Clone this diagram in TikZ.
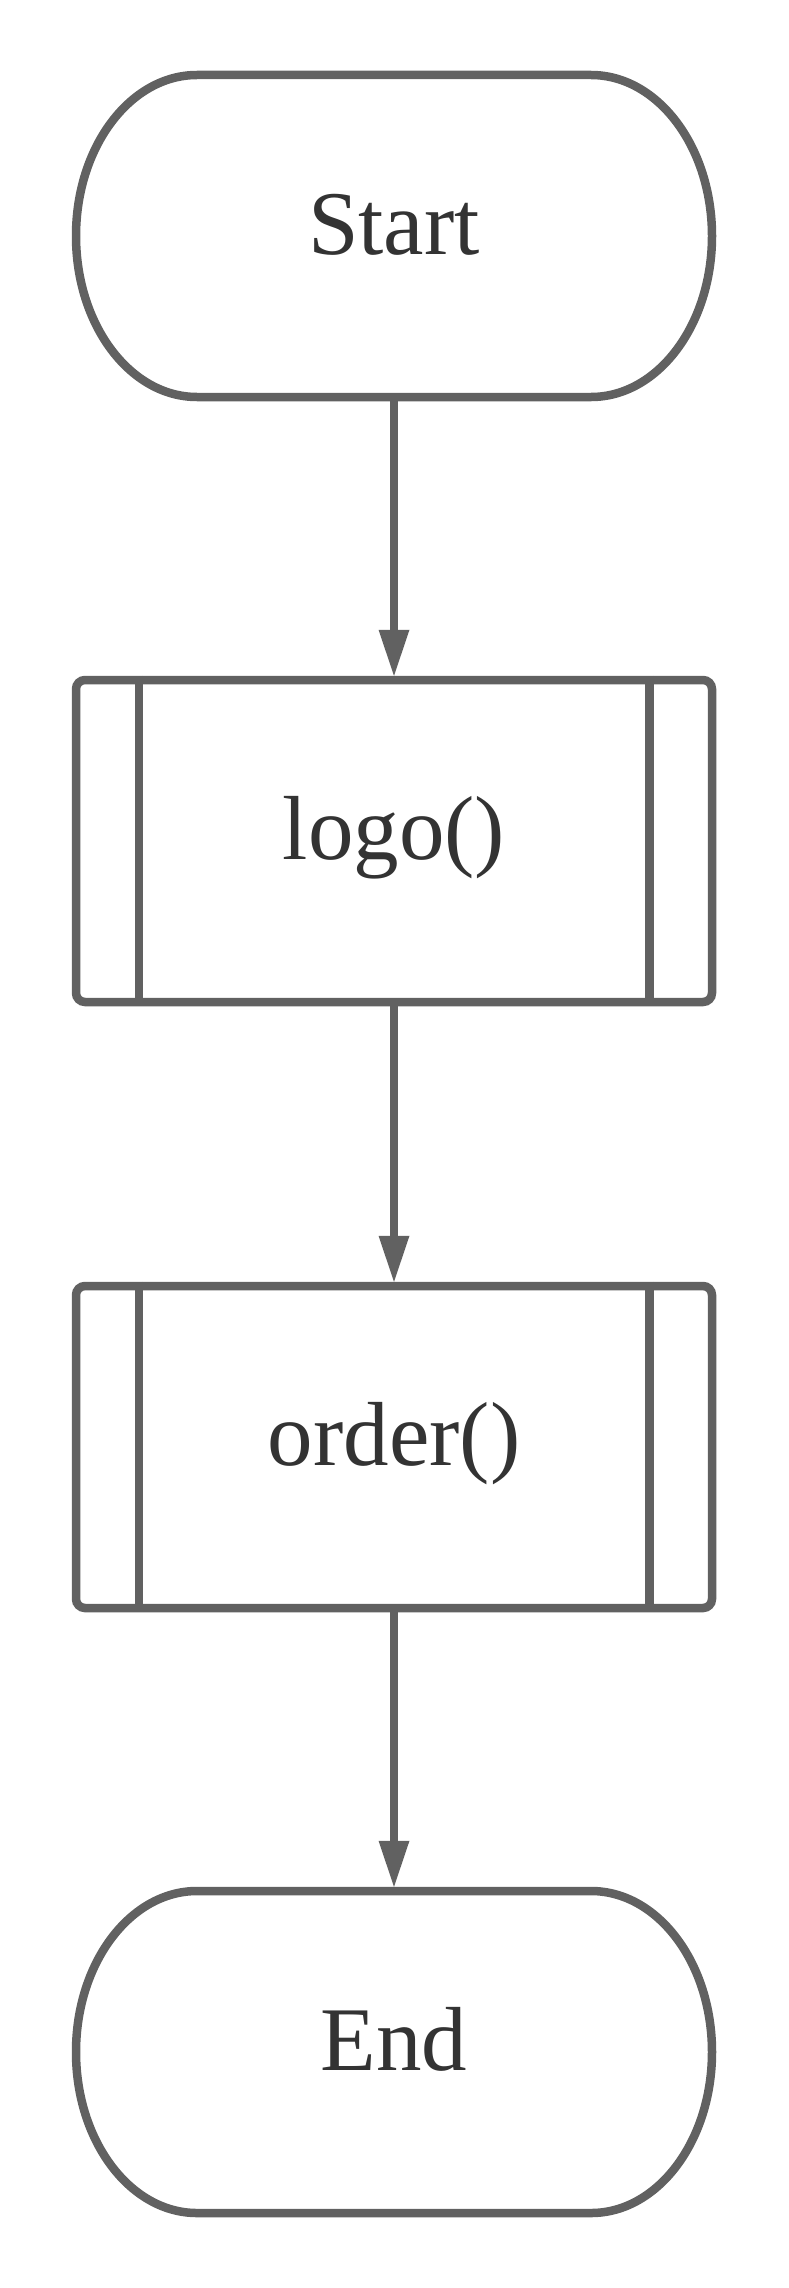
\documentclass[tikz,border=0pt]{standalone}
\usepackage{fontspec}
\setmainfont{Liberation Serif}
\usetikzlibrary{arrows.meta}
\definecolor{linegray}{HTML}{616161}
\definecolor{textgray}{HTML}{333333}
\tikzset{
  x=1pt, y=1pt,
  basenode/.style={line width=8.5pt, inner sep=0pt, minimum width=636pt, minimum height=322pt,
    text=textgray, font=\fontsize{91}{100}\selectfont, text height=62pt, text depth=26pt},
  termnode/.style={basenode, draw=none},
  termline/.style={draw=linegray, line width=8.5pt, fill=white},
  subbox/.style={basenode, draw=linegray, fill=white, rounded corners=9pt},
  subline/.style={draw=linegray, line width=8.5pt},
  flow/.style={draw=linegray, line width=8.5pt, -{Triangle[length=46pt, width=31pt, line width=0pt]}},
}
\newcommand{\termshape}[1]{%
  \begin{scope}[shift={(#1.center)}]
    \path[termline] (-197,161) -- (197,161)
      arc[start angle=90, end angle=-90, x radius=121, y radius=161]
      -- (-197,-161)
      arc[start angle=270, end angle=90, x radius=121, y radius=161] -- cycle;
  \end{scope}}
\begin{document}
\begin{tikzpicture}
  \useasboundingbox[fill=white] (0,0) rectangle (788,-2288);
  % Start
  \node[termnode] (start) at (394,-236) {};
  \termshape{start}
  \node[termnode] (startlabel) at (start.center) {Start};
  % logo()
  \node[subbox] (logo) at (394,-841) {logo()};
  \draw[subline] ([xshift=67pt]logo.north west) -- ([xshift=67pt]logo.south west);
  \draw[subline] ([xshift=-67pt]logo.north east) -- ([xshift=-67pt]logo.south east);
  % order()
  \node[subbox] (order) at (394,-1447) {order()};
  \draw[subline] ([xshift=67pt]order.north west) -- ([xshift=67pt]order.south west);
  \draw[subline] ([xshift=-67pt]order.north east) -- ([xshift=-67pt]order.south east);
  % End
  \node[termnode] (end) at (394,-2052) {};
  \termshape{end}
  \node[termnode] (endlabel) at (end.center) {End};
  % connectors
  \draw[flow] (start) -- (logo);
  \draw[flow] (logo) -- (order);
  \draw[flow] (order) -- (end);
\end{tikzpicture}
\end{document}
